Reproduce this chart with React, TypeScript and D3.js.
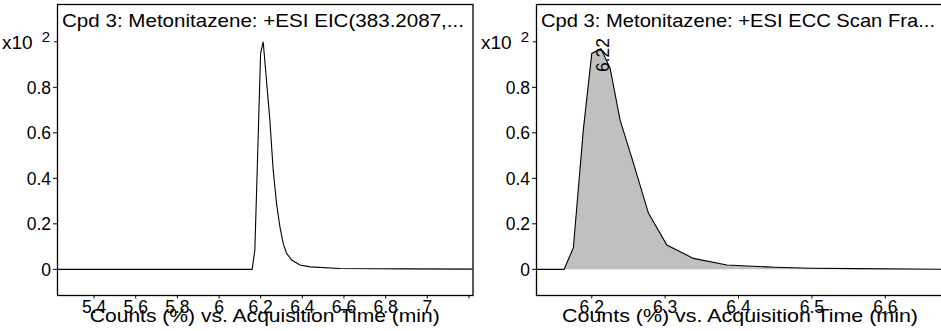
import React, { useRef, useEffect } from 'react';
import * as d3 from 'd3';

// EIC trace (left panel)
const eicTimes = [5.222, 6.159, 6.172, 6.1996, 6.212, 6.2237, 6.244, 6.26, 6.276, 6.2924, 6.308, 6.3245, 6.349, 6.3885, 6.437, 6.581, 6.9, 7.217];
const eicValues = [0, 0, 0.085, 0.949, 1.0, 0.875, 0.656, 0.436, 0.29, 0.187, 0.114, 0.07, 0.041, 0.019, 0.011, 0.004, 0.002, 0.001];

// ECC scan fragment trace (right panel)
const eccTimes = [6.124, 6.1623, 6.1749, 6.1885, 6.2, 6.2125, 6.225, 6.2386, 6.2568, 6.2772, 6.3023, 6.3386, 6.3842, 6.45, 6.498, 6.56, 6.68];
const eccValues = [0, 0, 0.095, 0.613, 0.949, 0.97, 0.884, 0.656, 0.467, 0.247, 0.107, 0.048, 0.019, 0.009, 0.005, 0.003, 0];

const leftTicks = [5.4, 5.6, 5.8, 6, 6.2, 6.4, 6.6, 6.8, 7, 7.2];
const leftTickLabels = ['5.4', '5.6', '5.8', '6', '6.2', '6.4', '6.6', '6.8', '7', ''];
const rightTicks = [6.2, 6.3, 6.4, 6.5, 6.6];
const rightTickLabels = ['6.2', '6.3', '6.4', '6.5', '6.6'];
const yTicks = [0, 0.2, 0.4, 0.6, 0.8];
const yTickLabels = ['0', '0.2', '0.4', '0.6', '0.8'];

const peakLabel = '6.22';
const peakTime = 6.22;

const FONT = '"Liberation Sans", Arial, sans-serif';

function App() {
  const svgRef = useRef<SVGSVGElement>(null);

  useEffect(() => {
    const svg = d3.select(svgRef.current);
    svg.selectAll('*').remove();

    const top = 4.5;
    const bottom = 295.5;
    // y scale shared by both panels
    const y = d3.scaleLinear().domain([-0.115, 1.164]).range([bottom, top]);

    function panel(opts: any) {
      const { left, right, xDomain, ticks, tickLabels, title, titleWidth, axisWidth, times, values, fill } = opts;
      const x = d3.scaleLinear().domain(xDomain).range([left, right]);
      const g = svg.append('g');

      const pts: [number, number][] = times.map((t: number, i: number) => [t, values[i]]);

      if (fill) {
        const area = d3.area<[number, number]>()
          .x(d => x(d[0]))
          .y0(y(0))
          .y1(d => y(d[1]));
        g.append('path').attr('d', area(pts)).attr('fill', fill).attr('stroke', 'none');
      }

      const line = d3.line<[number, number]>().x(d => x(d[0])).y(d => y(d[1]));
      g.append('path')
        .attr('d', line(pts))
        .attr('fill', 'none')
        .attr('stroke', '#000')
        .attr('stroke-width', 1.1);

      // frame
      g.append('rect')
        .attr('x', left + 0.5)
        .attr('y', top)
        .attr('width', right - left)
        .attr('height', bottom - top)
        .attr('fill', 'none')
        .attr('stroke', '#000')
        .attr('stroke-width', 1.3);

      // x ticks
      ticks.forEach((t: number, i: number) => {
        g.append('line')
          .attr('x1', x(t)).attr('x2', x(t))
          .attr('y1', bottom).attr('y2', bottom + 3)
          .attr('stroke', '#000');
        g.append('text')
          .attr('x', x(t))
          .attr('y', 313)
          .attr('text-anchor', 'middle')
          .attr('font-family', FONT)
          .attr('font-size', 17.5)
          .text(tickLabels[i]);
      });

      // y ticks
      yTicks.forEach((v, i) => {
        g.append('line')
          .attr('x1', left - 4).attr('x2', left)
          .attr('y1', y(v)).attr('y2', y(v))
          .attr('stroke', '#000');
        g.append('text')
          .attr('x', left - 6)
          .attr('y', y(v))
          .attr('dy', '0.36em')
          .attr('text-anchor', 'end')
          .attr('font-family', FONT)
          .attr('font-size', 17.5)
          .text(yTickLabels[i]);
      });
      g.append('line')
        .attr('x1', left - 3).attr('x2', left)
        .attr('y1', y(1)).attr('y2', y(1))
        .attr('stroke', '#000');
      const mult = g.append('text')
        .attr('x', left - 7)
        .attr('y', y(1))
        .attr('dy', '0.36em')
        .attr('text-anchor', 'end')
        .attr('font-family', FONT)
        .attr('font-size', 19);
      mult.append('tspan').text('x10');
      mult.append('tspan').attr('dx', 9).attr('dy', -7).attr('font-size', 15).text('2');

      // title
      g.append('text')
        .attr('x', left + 5)
        .attr('y', 26.5)
        .attr('font-family', FONT)
        .attr('font-size', 19)
        .attr('textLength', titleWidth)
        .attr('lengthAdjust', 'spacingAndGlyphs')
        .text(title);

      // axis title
      g.append('text')
        .attr('x', (left + right) / 2 - axisWidth / 2)
        .attr('y', 321.5)
        .attr('font-family', FONT)
        .attr('font-size', 19)
        .attr('textLength', axisWidth)
        .attr('lengthAdjust', 'spacingAndGlyphs')
        .text('Counts (%) vs. Acquisition Time (min)');

      return x;
    }

    panel({
      left: 57,
      right: 472.5,
      xDomain: [5.222, 7.217],
      ticks: leftTicks,
      tickLabels: leftTickLabels,
      title: 'Cpd 3: Metonitazene: +ESI EIC(383.2087,...',
      titleWidth: 402,
      axisWidth: 350,
      times: eicTimes,
      values: eicValues,
      fill: null,
    });

    const xr = panel({
      left: 536,
      right: 944,
      xDomain: [6.124, 6.68],
      ticks: rightTicks,
      tickLabels: rightTickLabels,
      title: 'Cpd 3: Metonitazene: +ESI ECC Scan Fra...',
      titleWidth: 394,
      axisWidth: 356,
      times: eccTimes,
      values: eccValues,
      fill: '#c0c0c0',
    });

    // apex label
    const px = xr(peakTime) + 3;
    const py = 72;
    svg.append('text')
      .attr('transform', `translate(${px},${py}) rotate(-90)`)
      .attr('font-family', FONT)
      .attr('font-size', 17.5)
      .text(peakLabel);
  }, []);

  return (
    <svg
      ref={svgRef}
      width={941}
      height={331}
      style={{ position: 'absolute', left: 0, top: 0, background: '#fff' }}
    />
  );
}

export default App;
